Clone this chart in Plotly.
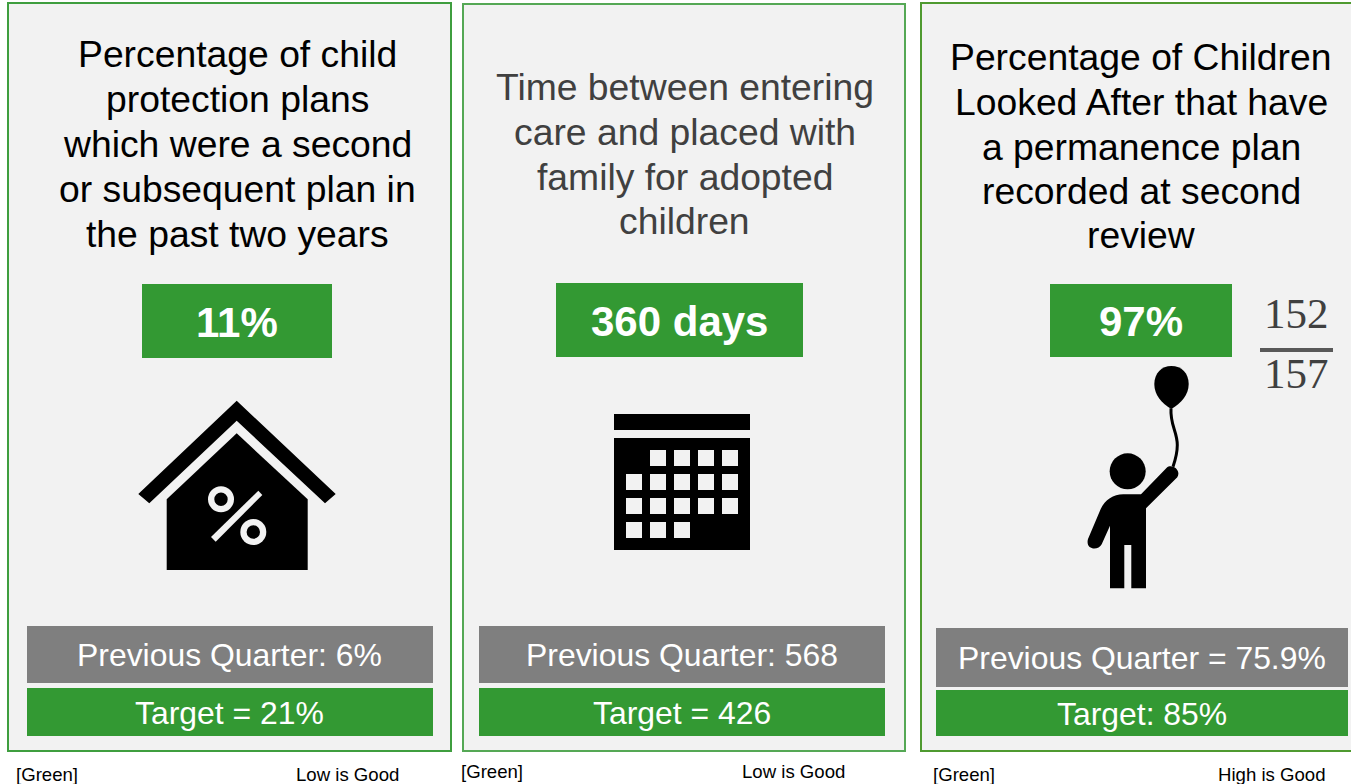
import plotly.graph_objects as go

# ---- content ----
titles = [
    ["Percentage of child", "protection plans", "which were a second", "or subsequent plan in", "the past two years"],
    ["Time between entering", "care and placed with", "family for adopted", "children"],
    ["Percentage of Children", "Looked After that have", "a permanence plan", "recorded at second", "review"],
]
headline_values = ["11%", "360 days", "97%"]
previous_labels = ["Previous Quarter: 6%", "Previous Quarter: 568", "Previous Quarter = 75.9%"]
target_labels = ["Target = 21%", "Target = 426", "Target: 85%"]
rag_labels = ["[Green]", "[Green]", "[Green]"]
polarity_labels = ["Low is Good", "Low is Good", "High is Good"]
numerator = "152"
denominator = "157"

# ---- layout geometry (page pixels) ----
W, H = 1351, 784
GREEN = "#339933"
GREY = "#7f7f7f"
PANEL = "#f2f2f2"
panel_boxes = [(8, 3, 451, 751), (463, 4, 905, 751), (921, 3, 1356, 751)]
border_cols = ["#3f9e3f", "#55a855", "#4f9a30"]
title_x = [237, 684.5, 1141]
title_ys = [[54, 99, 144, 189, 233.5], [86.5, 131.5, 176.5, 220.5], [56.5, 101.5, 146.5, 190.5, 234.5]]
title_cols = ["#000000", "#404040", "#000000"]
value_boxes = [(142, 284, 332, 358), (556, 283, 803, 357), (1050, 284, 1232, 357)]
prev_boxes = [(27, 626, 433, 683), (479, 626, 885, 683), (936, 628, 1348, 687)]
target_boxes = [(27, 688, 433, 736), (479, 688, 885, 736), (936, 690, 1348, 736)]
rag_pos = [(14, 774), (459, 771), (931, 774)]
pol_pos = [(401, 774), (847, 771), (1328, 774)]

shapes = []
annotations = []


def rect(x0, y0, x1, y1, fill, line=None, lw=0):
    shapes.append(dict(type="rect", x0=x0, y0=y0, x1=x1, y1=y1, fillcolor=fill,
                       line=dict(color=line or fill, width=lw), layer="above"))


def path(d, fill="#000000", line=None, lw=0):
    shapes.append(dict(type="path", path=d, fillcolor=fill,
                       line=dict(color=line or "rgba(0,0,0,0)", width=lw), layer="above"))


def circle(cx, cy, r, fill):
    shapes.append(dict(type="circle", x0=cx - r, y0=cy - r, x1=cx + r, y1=cy + r,
                       fillcolor=fill, line=dict(width=0), layer="above"))


def text(x, y, s, size, color, anchor="center", bold=False, family="Liberation Sans"):
    annotations.append(dict(x=x, y=y, text=f"<b>{s}</b>" if bold else s, showarrow=False,
                            xanchor=anchor, yanchor="middle", xref="x", yref="y",
                            font=dict(family=family, size=size, color=color)))


for i in range(3):
    x0, y0, x1, y1 = panel_boxes[i]
    rect(x0, y0, x1, y1, PANEL, border_cols[i], 2)
    for line, y in zip(titles[i], title_ys[i]):
        text(title_x[i], y, line, 37.3, title_cols[i])
    vb = value_boxes[i]
    rect(*vb, GREEN)
    text((vb[0] + vb[2]) / 2 - 0.5, (vb[1] + vb[3]) / 2 + 1, headline_values[i], 42, "#ffffff", bold=True)
    pb = prev_boxes[i]
    rect(*pb, GREY)
    text((pb[0] + pb[2]) / 2 - 0.5, (pb[1] + pb[3]) / 2 + 0.5, previous_labels[i], 31.9, "#ffffff")
    tb = target_boxes[i]
    rect(*tb, GREEN)
    text((tb[0] + tb[2]) / 2 - 0.5, (tb[1] + tb[3]) / 2 + 1, target_labels[i], 31.9, "#ffffff")
    text(rag_pos[i][0], rag_pos[i][1], rag_labels[i], 18.6, "#000000", anchor="left")
    text(pol_pos[i][0], pol_pos[i][1], polarity_labels[i], 18.6, "#000000", anchor="right")

# house icon
path("M236.7,400.7 L335.7,494 L325,503.3 L236.7,420.7 L149.3,503.3 L138.3,494 Z")
path("M236.7,433.3 L307.7,499.3 L307.7,570 L166.7,570 L166.7,499.3 Z")
circle(221, 499.3, 13, PANEL)
circle(221, 499.3, 6.7, "#000000")
circle(253.3, 532, 13, PANEL)
circle(253.3, 532, 6.7, "#000000")
path("M258.3,490.7 L262.3,495 L215.7,541.7 L211,537 Z", PANEL)

# calendar icon
rect(614, 414, 750, 430, "#000000")
rect(614, 438, 750, 550, "#000000")
cal_cols = [626, 650, 674, 698, 722]
cal_rows = [(450, [1, 2, 3, 4]), (474, [0, 1, 2, 3, 4]), (498, [0, 1, 2, 3, 4]), (522, [0, 1, 2])]
for ry, cs in cal_rows:
    for c in cs:
        rect(cal_cols[c], ry, cal_cols[c] + 16, ry + 16, PANEL)

# child with balloon (zoom-crop coordinates mapped to page pixels)
def mp(x, y):
    return f"{1070 + x / 3:.1f},{285 + y / 3:.1f}"


path(f"M{mp(304, 372)} C{mp(275, 355)} {mp(253, 330)} {mp(253, 297)} "
     f"C{mp(253, 265)} {mp(275, 243)} {mp(304, 243)} C{mp(335, 243)} {mp(356, 265)} {mp(356, 297)} "
     f"C{mp(356, 330)} {mp(333, 355)} {mp(304, 372)} Z")
path(f"M{mp(303, 370)} C{mp(300, 420)} {mp(322, 440)} {mp(322, 480)} C{mp(322, 505)} {mp(316, 525)} {mp(309, 545)}",
     "rgba(0,0,0,0)", "#000000", 3)
circle(1070 + 173 / 3, 285 + 559 / 3, 18, "#000000")
path(f"M{mp(213, 628)} L{mp(290, 548)} C{mp(305, 535)} {mp(335, 555)} {mp(322, 577)} L{mp(228, 670)} "
     f"L{mp(228, 910)} L{mp(184, 910)} L{mp(184, 780)} L{mp(163, 780)} L{mp(163, 910)} L{mp(120, 910)} "
     f"L{mp(120, 722)} L{mp(95, 778)} C{mp(85, 798)} {mp(45, 795)} {mp(54, 762)} L{mp(92, 672)} "
     f"C{mp(105, 645)} {mp(130, 628)} {mp(160, 628)} Z")

# fraction image
text(1296, 313, numerator, 43, "#404040", family="Liberation Serif")
text(1296, 373, denominator, 43, "#404040", family="Liberation Serif")
shapes.append(dict(type="line", x0=1260, x1=1333, y0=350, y1=350,
                   line=dict(color="#595959", width=4), layer="above"))

fig = go.Figure()
fig.update_layout(
    width=W, height=H, autosize=False,
    margin=dict(l=0, r=0, t=0, b=0),
    paper_bgcolor="#ffffff", plot_bgcolor="#ffffff",
    xaxis=dict(range=[0, W], visible=False, fixedrange=True),
    yaxis=dict(range=[H, 0], visible=False, fixedrange=True),
    shapes=shapes, annotations=annotations, showlegend=False,
)
fig.write_html("out.html", config=dict(displayModeBar=False),
               post_script="document.body.style.margin='0';document.body.style.overflow='hidden';")
